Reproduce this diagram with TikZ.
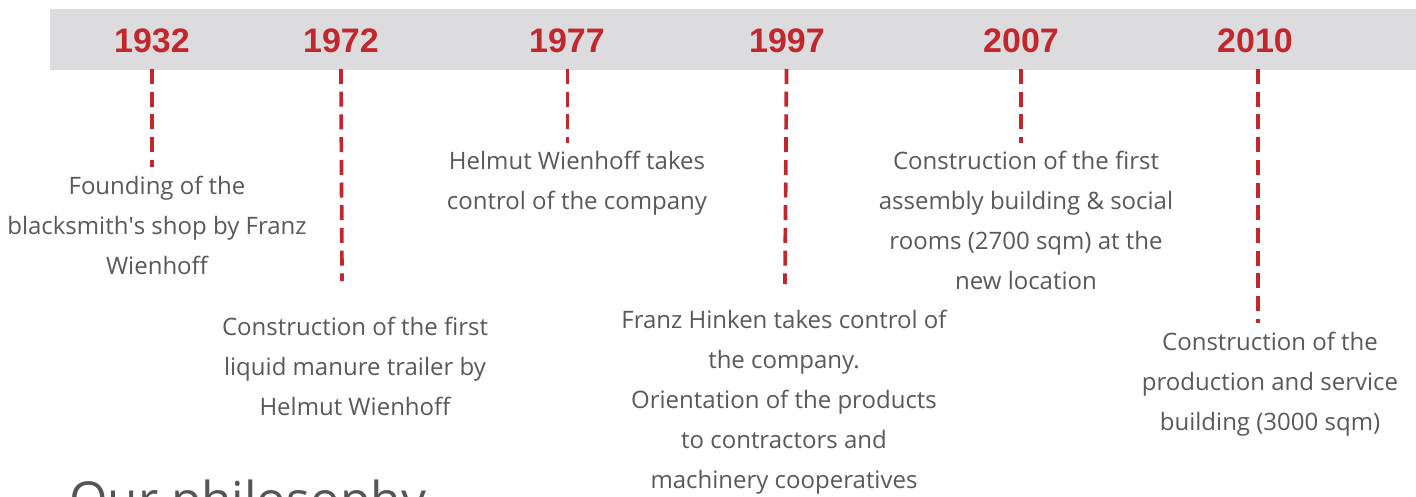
\documentclass[tikz,border=0pt]{standalone}
\usepackage{fontspec}
\setmainfont{Open Sans}
\newfontfamily\yearfont{Liberation Sans}
\definecolor{tlred}{HTML}{C1272D}
\definecolor{tlband}{HTML}{DCDCDE}
\definecolor{tltext}{HTML}{595959}
\definecolor{tlhead}{HTML}{555555}
\tikzset{
  year/.style={font=\yearfont\bfseries\fontsize{34}{40}\selectfont, text=tlred, anchor=base, inner sep=0pt},
  event/.style={font=\fontsize{24}{40}\selectfont, text=tltext, align=center, anchor=north, inner sep=0pt},
  tick/.style={draw=tlred, line width=3.7pt, dash pattern=on 15pt off 7.7pt},
}
\begin{document}
\begin{tikzpicture}[x=1pt,y=-1pt]
\useasboundingbox (0,0) rectangle (1416,496);
\clip (0,0) rectangle (1416,496);
\fill[white] (0,0) rectangle (1416,496);
\fill[tlband] (50,9) rectangle (1416,69.5);
% years
\node[year] (y1932) at (152,52) {1932};
\node[year] (y1972) at (341,52) {1972};
\node[year] (y1977) at (567,52) {1977};
\node[year] (y1997) at (787,52) {1997};
\node[year] (y2007) at (1021,52) {2007};
\node[year] (y2010) at (1255,52) {2010};
% events
\node[event] (e1932) at (157,176) {Founding of the\\blacksmith\textquotesingle s shop by Franz\\Wienhoff};
\node[event] (e1972) at (355,317) {Construction of the first\\liquid manure trailer by\\Helmut Wienhoff};
\node[event] (e1977) at (577,151) {Helmut Wienhoff takes\\control of the company};
\node[event] (e1997) at (784,310) {Franz Hinken takes control of\\the company.\\Orientation of the products\\to contractors and\\machinery cooperatives};
\node[event] (e2007) at (1026,151) {Construction of the first\\assembly building \& social\\rooms (2700 sqm) at the\\new location};
\node[event] (e2010) at (1270,332) {Construction of the\\production and service\\building (3000 sqm)};
% ticks
\coordinate (t1932) at (152,69); \coordinate (b1932) at (152,167);
\coordinate (t1972) at (341,69); \coordinate (b1972) at (342,281);
\coordinate (t1977) at (567.5,69); \coordinate (b1977) at (567.5,143);
\coordinate (t1997) at (786.5,69); \coordinate (b1997) at (785,284);
\coordinate (t2007) at (1021,69); \coordinate (b2007) at (1021,143);
\coordinate (t2010) at (1258,69); \coordinate (b2010) at (1258,323);
\foreach \y in {1932,1972,1977,1997,2007,2010}{\draw[tick] (t\y) -- (b\y);}
% heading
\node[font=\fontsize{49.5}{56}\selectfont, text=tlhead, anchor=base west, inner sep=0pt] (head) at (69,517) {Our philosophy};
\end{tikzpicture}
\end{document}
